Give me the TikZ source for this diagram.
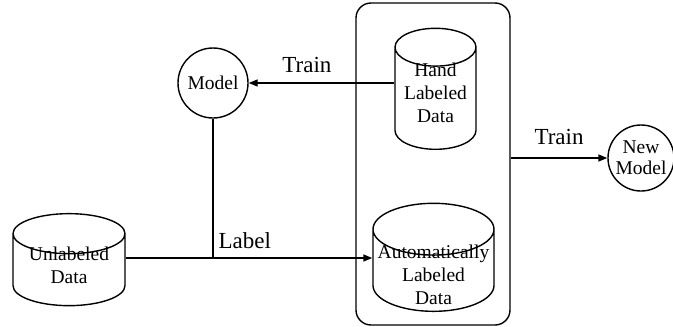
\documentclass[tikz,border=0pt]{standalone}
\usepackage{fontspec}
\setmainfont{Liberation Serif}
\usetikzlibrary{shapes.geometric,arrows.meta}

\begin{document}
\begin{tikzpicture}[x=1pt,y=-1pt,line width=1.4pt,
	db/.style={draw,cylinder,shape border rotate=90,inner sep=0pt},
	dbtext/.style={align=center,inner sep=0pt,font=\fontsize{19.5}{23}\selectfont},
	mdl/.style={draw,circle,align=center,inner sep=0pt,
		font=\fontsize{19.5}{21}\selectfont},
	lbl/.style={font=\fontsize{23}{27}\selectfont},
	arr/.style={-{Triangle[length=9pt,width=7pt]}}
	]
	\useasboundingbox (0,0) rectangle (673,327);
	
	\node[draw,rounded corners=15pt,minimum width=154pt,minimum height=322pt] (group) at (433,164) {};
	\node[db,aspect=0.5,text width=80pt,minimum width=112pt,minimum height=92pt] (unlab) at (69,270) {};
	\node[db,aspect=0.6,text width=63pt,minimum width=81pt,minimum height=121pt] (hand) at (435.5,98.6) {};
	\node[db,aspect=0.45,text width=115pt,minimum width=121pt,minimum height=108pt] (auto) at (433.5,270.6) {};
	\node[dbtext] (unlabtxt) at ([yshift=4.2pt]unlab.center) {Unlabeled\\Data};
	\node[dbtext] (handtxt) at ([yshift=5.8pt]hand.center) {Hand\\Labeled\\Data};
	\node[dbtext] (autotxt) at ([yshift=-4.4pt]auto.center) {Automatically\\Labeled\\Data};
	\node[mdl,minimum size=70pt] (model) at (213,83) {Model};
	\node[mdl,minimum size=66pt] (newmodel) at (641,158) {New\\Model};
	
	\coordinate (join) at (model.south |- 0,258);
	\draw (model.south) -- (join);
	\draw[arr] (unlab.east |- join) -- (join) -- node[lbl,above=5pt,pos=0.2] {Label} (join -| auto.west);
	\draw[arr] (model.east -| hand.west) -- node[lbl,above=6pt,pos=0.6] {Train} (model.east);
	\draw[arr] (group.east |- newmodel.west) -- node[lbl,above=9pt] {Train} (newmodel.west);
	
\end{tikzpicture}
\end{document}
